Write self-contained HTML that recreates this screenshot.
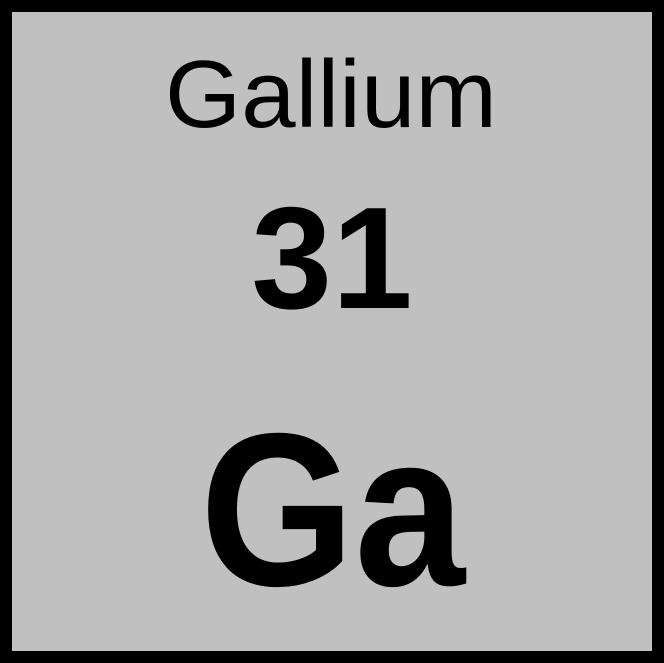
<!DOCTYPE html>
<html>
<head>
<meta charset="utf-8">
<style>
html,body{margin:0;padding:0;background:#fff;}
svg{display:block;}
</style>
</head>
<body>
<svg width="664" height="663" viewBox="0 0 664 663">
  <rect x="6" y="6" width="652" height="651" fill="#c0c0c0" stroke="#000" stroke-width="12"/>
  <text x="165" y="127" textLength="332" lengthAdjust="spacingAndGlyphs" font-family="Liberation Sans, sans-serif" font-size="96" fill="#000">Gallium</text>
  <text x="332" y="308" text-anchor="middle" font-family="Liberation Sans, sans-serif" font-weight="bold" font-size="145" fill="#000">31</text>
  <text x="200" y="585" textLength="265" lengthAdjust="spacingAndGlyphs" font-family="Liberation Sans, sans-serif" font-weight="bold" font-size="218" fill="#000">Ga</text>
</svg>
</body>
</html>
